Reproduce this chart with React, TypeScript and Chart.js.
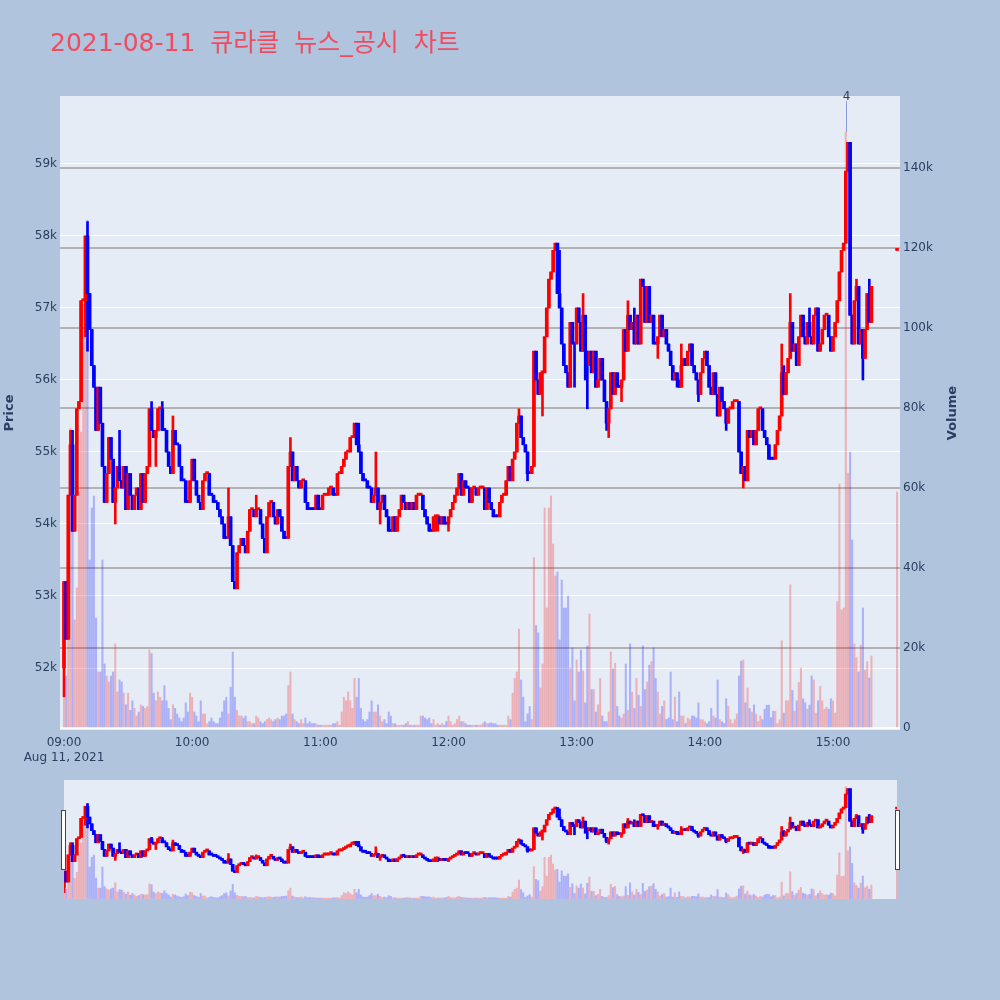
import React, { useEffect, useRef } from 'react';
import { Chart, registerables } from 'chart.js';

Chart.register(...registerables);

// ---------------- data ----------------
const TITLE = '2021-08-11 큐라클 뉴스_공시 차트';
const DATE_LABEL = 'Aug 11, 2021';
const tickMinutes = [0, 60, 120, 180, 240, 300, 360];
const tickLabels = ['09:00', '10:00', '11:00', '12:00', '13:00', '14:00', '15:00'];
const priceTicks = [52000, 53000, 54000, 55000, 56000, 57000, 58000, 59000];
const volumeTicks = [0, 20000, 40000, 60000, 80000, 100000, 120000, 140000];

const FIRST_OPEN = 52000;

// per-minute closing prices (minute 0 = 09:00)
const closesH09 = [
  53200, 52400, 54400, 55100, 53900, 54400, 55600, 55700, 57100, 57100,
  58000, 57200, 56700, 56200, 55900, 55300, 55900, 55400, 54800, 54300,
  54700, 55200, 54900, 54300, 54500, 54800, 54600, 54500, 54800, 54200,
  54700, 54400, 54200, 54400, 54500, 54200, 54700, 54300, 54700, 54800,
  55600, 55300, 55200, 55300, 55600, 55600, 55300, 55300, 55000, 54800,
  54700, 55300, 55100, 55100, 54800, 54600, 54600, 54300, 54300, 54600,
];
const closesH10 = [
  54900, 54600, 54400, 54300, 54200, 54600, 54700, 54700, 54400, 54400,
  54300, 54300, 54200, 54100, 54000, 53800, 53800, 54100, 53700, 53200,
  53100, 53600, 53700, 53800, 53700, 53600, 53900, 54200, 54200, 54100,
  54200, 54200, 54000, 53800, 53600, 54100, 54300, 54300, 54100, 54000,
  54200, 54100, 53900, 53800, 53800, 54800, 55000, 54600, 54800, 54600,
  54500, 54600, 54600, 54300, 54200, 54200, 54200, 54200, 54400, 54200,
];
const closesH11 = [
  54200, 54400, 54400, 54400, 54500, 54500, 54400, 54400, 54700, 54700,
  54800, 54900, 55000, 55000, 55200, 55200, 55400, 55100, 55000, 54700,
  54600, 54600, 54500, 54500, 54300, 54400, 54500, 54200, 54300, 54400,
  54200, 54100, 53900, 53900, 54100, 53900, 54100, 54200, 54400, 54300,
  54200, 54300, 54200, 54300, 54200, 54400, 54400, 54400, 54200, 54100,
  54000, 53900, 53900, 54100, 54100, 54100, 54000, 54100, 54000, 54000,
];
const closesH12 = [
  54100, 54200, 54300, 54400, 54500, 54700, 54400, 54600, 54500, 54500,
  54300, 54500, 54500, 54400, 54500, 54500, 54500, 54200, 54500, 54300,
  54200, 54100, 54100, 54100, 54300, 54400, 54400, 54600, 54800, 54600,
  54900, 55000, 55400, 55500, 55200, 55100, 55000, 54700, 54700, 54800,
  56400, 56000, 55800, 56100, 56100, 56600, 57000, 57400, 57500, 57800,
  57900, 57200, 57000, 56500, 56200, 56100, 55900, 56800, 56500, 56500,
];
const closesH13 = [
  57000, 56800, 56400, 56900, 56400, 56200, 56400, 56100, 56400, 55900,
  56000, 56300, 56000, 55700, 55400, 55600, 56100, 55800, 56100, 55900,
  55900, 56000, 56700, 56400, 56900, 56700, 56800, 56500, 56900, 56500,
  57400, 57300, 56800, 57300, 56800, 56900, 56500, 56500, 56600, 56900,
  56600, 56700, 56500, 56400, 56200, 56000, 56100, 56000, 55900, 56200,
  56300, 56200, 56400, 56500, 56200, 56100, 56000, 55800, 56100, 56300,
];
const closesH14 = [
  56400, 56200, 55900, 55800, 56100, 55800, 55500, 55900, 55700, 55600,
  55400, 55600, 55600, 55700, 55700, 55700, 55000, 54700, 54800, 54600,
  55300, 55200, 55300, 55100, 55300, 55600, 55600, 55300, 55200, 55100,
  54900, 54900, 54900, 55100, 55300, 55500, 56100, 55800, 56100, 56300,
  56800, 56400, 56500, 56200, 56600, 56900, 56600, 56500, 56800, 56600,
  56500, 56900, 57000, 56400, 56500, 56700, 56900, 56900, 56600, 56400,
];
const closesH15 = [
  56600, 56800, 57100, 57500, 57800, 57900, 58900, 59300, 56900, 56500,
  57100, 57300, 56500, 56700, 56300, 56700, 57200, 56800, 57300,
];

// wick extremes [minute, price]
const wickHighs: [number, number][] = [
  [3, 55300], [4, 55300], [11, 58200], [26, 55300], [41, 55700], [46, 55700], [51, 55500],
  [68, 54700], [77, 54500], [90, 54400], [106, 55200], [137, 55400], [138, 55400], [146, 55000],
  [185, 54700], [213, 55600], [230, 57900], [231, 57800], [232, 57800], [243, 57200], [264, 57100],
  [267, 57000], [289, 56500], [316, 55400], [336, 56500], [337, 56200], [340, 57200], [349, 57000],
  [371, 57400], [377, 57400],
];
const wickLows: [number, number][] = [
  [0, 51600], [10, 56600], [11, 56400], [24, 54000], [43, 54800], [80, 53100], [95, 53600],
  [148, 54000], [152, 53900], [174, 53900], [175, 53900], [180, 53900], [217, 54600], [224, 55500],
  [239, 55900], [244, 56000], [245, 55600], [254, 55300], [255, 55200], [261, 55700], [278, 56300],
  [287, 55900], [297, 55700], [310, 55300], [318, 54500], [374, 56000],
];

// per-minute volume, thousands of shares
const volH09 = [
  8, 13, 31, 75, 50, 27, 35, 59, 74, 106,
  106, 127, 42, 55, 58, 27.5, 14, 14, 42, 16,
  13, 11.5, 13, 14, 21, 9, 12, 11.5, 8.7, 5.8,
  8.7, 4.4, 6.8, 4.9, 3, 4, 5.8, 5.4, 4.9, 5.4,
  19.5, 18.6, 8.7, 6.8, 9, 7.7, 6.8, 10.6, 6.8, 4.9,
  2.1, 5.8, 4.9, 3.5, 2.5, 1.6, 2.5, 6.3, 4, 8.7,
];
const volH10 = [
  7.7, 4, 3, 1.6, 6.8, 3.5, 3.5, 1.1, 1.6, 2.5,
  1.6, 1.1, 1.1, 2.5, 4, 6.8, 7.7, 3.5, 10.2, 19,
  7.7, 4.4, 3, 3, 2.5, 3, 1.6, 1.6, 1.1, 1.1,
  3, 2.5, 1.6, 1.1, 1.6, 2.1, 2.5, 2.1, 1.6, 2.1,
  2.5, 2.1, 3, 3, 3.5, 10.6, 14, 3.5, 2.1, 1.6,
  1.1, 2.1, 1.1, 2.5, 1.1, 1.6, 1.1, 1.1, 1.1, 0.7,
];
const volH11 = [
  0.7, 0.7, 0.7, 0.7, 0.7, 0.7, 1.1, 1.1, 1.6, 0.7,
  4, 7.7, 6.8, 9, 6.8, 4.9, 12.4, 7.7, 12.4, 4.9,
  2.1, 1.6, 2.1, 4, 6.8, 4, 4, 5.8, 3, 1.6,
  2.1, 1.1, 4, 3, 1.1, 1.1, 0.7, 0.7, 0.7, 0.7,
  1.1, 1.6, 0.7, 0.7, 0.7, 0.7, 0.7, 3, 3, 2.5,
  2.1, 2.5, 1.1, 2.1, 0.7, 1.1, 0.7, 1.1, 0.7, 1.6,
];
const volH12 = [
  3, 1.6, 0.7, 1.1, 2.1, 3, 1.6, 1.6, 1.1, 0.7,
  0.7, 0.7, 0.7, 0.7, 0.7, 0.7, 1.1, 1.6, 1.1, 1.1,
  1.3, 1.1, 1.1, 0.7, 0.7, 0.7, 0.7, 0.7, 3, 2.1,
  8.7, 12.4, 14, 24.7, 12, 7.7, 1.6, 3.5, 5.4, 2.1,
  42.6, 25.6, 23.8, 10, 16, 55, 30, 55, 58, 46,
  38, 39, 22, 37, 30, 30, 33, 15, 20, 6.8,
];
const volH13 = [
  17, 14, 19.5, 14.3, 6.3, 20.5, 28.5, 9.6, 9.6, 4,
  5.8, 12.4, 3, 1.6, 1.6, 4, 19, 14.8, 16.2, 5.4,
  3, 2.5, 3.5, 16, 4.4, 21, 9, 4.9, 12.4, 8.2,
  5.4, 20.5, 9.6, 11.5, 15.7, 16.6, 20, 12.4, 9, 3.5,
  5.4, 6.8, 2.1, 2.5, 14, 2.1, 7.7, 1.6, 9, 3,
  3, 1.1, 2.5, 2.1, 3, 3, 2.5, 6.3, 2.1, 2.1,
];
const volH14 = [
  1.6, 1.1, 1.6, 4.9, 3, 2.5, 12, 2.1, 1.6, 1.1,
  7.3, 5.4, 2.1, 1.1, 2.1, 3.5, 13, 16.7, 17, 6.3,
  10, 4.9, 4, 5.8, 3.5, 1.6, 3, 2.1, 4.7, 5.7,
  5.7, 2.6, 4.2, 4.2, 1.1, 2.1, 21.8, 3.7, 6.8, 6.8,
  35.8, 9.4, 4.2, 6.8, 11.4, 15, 7.3, 6.3, 4.7, 5.7,
  13, 12, 3.7, 6.8, 10.4, 6.8, 4.7, 5.2, 4.7, 7.3,
];
const volH15 = [
  6.8, 3.7, 31.6, 61, 29.5, 30, 149, 63.7, 69, 47,
  21, 17.6, 14, 20.7, 30, 14.5, 16.6, 12.5, 18,
];

// closing auction (15:30)
const closingAuction = { minute: 390, price: 57800, volumeK: 59 };
// news annotation
const newsMark = { minute: 366, text: '4' };

// ---------------- styling ----------------
const PAGE_BG = '#b0c4de';
const PLOT_BG = '#e5ecf6';
const UP = '#ff0000';
const DOWN = '#0000ff';
const VOL_UP = 'rgba(255,0,0,0.25)';
const VOL_DOWN = 'rgba(0,0,255,0.25)';
const TEXT = '#2a3f5f';
const TITLE_COLOR = 'rgb(239,76,96)';
const FONT = '"DejaVu Sans", Verdana, sans-serif';

const PRICE_MIN = 51139;
const PRICE_MAX = 59944;
const VOL_MIN = -500;
const VOL_MAX = 158000;
const X_MIN = -1.873;
const X_MAX = 391.37;

type Candle = { m: number; o: number; h: number; l: number; c: number; v: number; up: boolean };

function buildCandles(): Candle[] {
  const closes = [...closesH09, ...closesH10, ...closesH11, ...closesH12, ...closesH13, ...closesH14, ...closesH15];
  const vols = [...volH09, ...volH10, ...volH11, ...volH12, ...volH13, ...volH14, ...volH15];
  const out: Candle[] = [];
  let prevUp = true;
  closes.forEach((c, i) => {
    const o = i === 0 ? FIRST_OPEN : closes[i - 1];
    const up = c > o ? true : c < o ? false : prevUp;
    prevUp = up;
    out.push({ m: i, o, h: Math.max(o, c), l: Math.min(o, c), c, v: (vols[i] ?? 0) * 1000, up });
  });
  wickHighs.forEach(([m, p]) => { if (out[m]) out[m].h = Math.max(out[m].h, p); });
  wickLows.forEach(([m, p]) => { if (out[m]) out[m].l = Math.min(out[m].l, p); });
  const last = closes[closes.length - 1];
  const p = closingAuction.price;
  out.push({ m: closingAuction.minute, o: p, h: p, l: p, c: p, v: closingAuction.volumeK * 1000, up: p >= last });
  return out;
}

function makeDatasets(candles: Candle[]): any[] {
  const colors = candles.map((k) => (k.up ? UP : DOWN));
  return [
    {
      type: 'bar',
      label: 'Volume',
      data: candles.map((k) => ({ x: k.m, y: k.v })),
      yAxisID: 'y1',
      backgroundColor: candles.map((k) => (k.up ? VOL_UP : VOL_DOWN)),
      barThickness: 1.4,
      grouped: false,
      order: 3,
    },
    {
      type: 'bar',
      label: 'Wick',
      data: candles.map((k) => ({ x: k.m, y: [k.l, k.h] })),
      yAxisID: 'y',
      backgroundColor: colors,
      barThickness: 2,
      grouped: false,
      order: 2,
    },
    {
      type: 'bar',
      label: 'Body',
      data: candles.map((k) => ({ x: k.m, y: [k.o, k.c] })),
      yAxisID: 'y',
      backgroundColor: colors,
      barThickness: 3,
      minBarLength: 2,
      grouped: false,
      order: 1,
    },
  ];
}

const plotBgPlugin = {
  id: 'plotBg',
  beforeDraw(chart: any) {
    const { ctx, chartArea: a } = chart;
    ctx.save();
    ctx.fillStyle = PLOT_BG;
    ctx.fillRect(a.left, a.top, a.right - a.left, a.bottom - a.top);
    ctx.restore();
  },
};

function makeOverlayPlugin(candles: Candle[]) {
  return {
    id: 'overlay',
    afterDraw(chart: any) {
      const { ctx, chartArea: a } = chart;
      ctx.save();
      // title
      ctx.font = `25px ${FONT}, "Noto Sans CJK KR", sans-serif`;
      ctx.fillStyle = TITLE_COLOR;
      ctx.textAlign = 'left';
      ctx.textBaseline = 'alphabetic';
      try { (ctx as any).wordSpacing = '7px'; } catch (e) { /* ignore */ }
      ctx.fillText(TITLE, 50, 51);
      try { (ctx as any).wordSpacing = '0px'; } catch (e) { /* ignore */ }

      // axis titles
      const cy = (a.top + a.bottom) / 2;
      ctx.font = `bold 13px ${FONT}`;
      ctx.fillStyle = TEXT;
      ctx.textAlign = 'center';
      ctx.textBaseline = 'middle';
      ctx.save();
      ctx.translate(10, cy);
      ctx.rotate(-Math.PI / 2);
      ctx.fillText('Price', 0, 0);
      ctx.restore();
      ctx.save();
      ctx.translate(953, cy);
      ctx.rotate(-Math.PI / 2);
      ctx.fillText('Volume', 0, 0);
      ctx.restore();

      // news annotation
      const k = candles.find((c) => c.m === newsMark.minute);
      const x = Math.round(chart.scales.x.getPixelForValue(newsMark.minute)) + 0.5;
      const yEnd = k ? chart.scales.y1.getPixelForValue(k.v) : a.top + 30;
      ctx.strokeStyle = 'rgba(110,130,210,0.75)';
      ctx.lineWidth = 1;
      ctx.beginPath();
      ctx.moveTo(x, a.top + 5);
      ctx.lineTo(x, yEnd);
      ctx.stroke();
      ctx.font = `12px ${FONT}`;
      ctx.fillStyle = TEXT;
      ctx.textAlign = 'center';
      ctx.textBaseline = 'middle';
      ctx.fillText(newsMark.text, x, a.top + 0.5);
      ctx.restore();
    },
  };
}

export default function App() {
  const mainRef = useRef<HTMLCanvasElement>(null);
  const sliderRef = useRef<HTMLCanvasElement>(null);

  useEffect(() => {
    const candles = buildCandles();
    const tickFont = { family: FONT, size: 12 };

    const main = new Chart(mainRef.current as HTMLCanvasElement, {
      type: 'bar',
      data: { datasets: makeDatasets(candles) },
      options: {
        animation: false,
        responsive: false,
        maintainAspectRatio: false,
        events: [],
        layout: { padding: { top: 96, left: 0, right: 35, bottom: 0 } },
        plugins: { legend: { display: false }, tooltip: { enabled: false }, title: { display: false } },
        scales: {
          x: {
            type: 'linear',
            min: X_MIN,
            max: X_MAX,
            offset: false,
            grid: { display: false, offset: false },
            border: { display: false },
            afterFit: (s: any) => { s.height = 270; },
            afterBuildTicks: (s: any) => { s.ticks = tickMinutes.map((v) => ({ value: v })); },
            ticks: {
              autoSkip: false,
              maxRotation: 0,
              padding: -2,
              color: TEXT,
              font: tickFont,
              callback: (v: any) => {
                const i = tickMinutes.indexOf(Number(v));
                if (i < 0) return '';
                return i === 0 ? [tickLabels[0], DATE_LABEL] : tickLabels[i];
              },
            },
          },
          y: {
            type: 'linear',
            position: 'left',
            min: PRICE_MIN,
            max: PRICE_MAX,
            grid: { color: '#ffffff', lineWidth: 1, drawTicks: false },
            border: { display: false },
            afterFit: (s: any) => { s.width = 60; },
            afterBuildTicks: (s: any) => { s.ticks = priceTicks.map((v) => ({ value: v })); },
            ticks: { padding: 3, color: TEXT, font: tickFont, callback: (v: any) => `${Number(v) / 1000}k` },
          },
          y1: {
            type: 'linear',
            position: 'right',
            min: VOL_MIN,
            max: VOL_MAX,
            grid: {
              color: (c: any) => (c.tick && c.tick.value === 0 ? '#ffffff' : '#b2b2b2'),
              lineWidth: 2,
              drawTicks: false,
            },
            border: { display: false },
            afterFit: (s: any) => { s.width = 65; },
            afterBuildTicks: (s: any) => { s.ticks = volumeTicks.map((v) => ({ value: v })); },
            ticks: {
              padding: 3,
              color: TEXT,
              font: tickFont,
              callback: (v: any) => (Number(v) === 0 ? '0' : `${Number(v) / 1000}k`),
            },
          },
        },
      } as any,
      plugins: [plotBgPlugin, makeOverlayPlugin(candles)],
    });

    const slider = new Chart(sliderRef.current as HTMLCanvasElement, {
      type: 'bar',
      data: { datasets: makeDatasets(candles) },
      options: {
        animation: false,
        responsive: false,
        maintainAspectRatio: false,
        events: [],
        layout: { padding: 0 },
        plugins: { legend: { display: false }, tooltip: { enabled: false } },
        scales: {
          x: { type: 'linear', display: false, min: 0, max: 390, offset: false, grid: { offset: false } },
          y: { type: 'linear', display: false, min: PRICE_MIN, max: PRICE_MAX },
          y1: { type: 'linear', display: false, position: 'right', min: VOL_MIN, max: VOL_MAX },
        },
      } as any,
      plugins: [plotBgPlugin],
    });

    return () => {
      main.destroy();
      slider.destroy();
    };
  }, []);

  const handle: React.CSSProperties = {
    position: 'absolute',
    top: 810,
    width: 3,
    height: 58,
    background: '#ffffff',
    border: '1px solid #444444',
  };

  return (
    <div style={{ position: 'fixed', left: 0, top: 0, width: 1000, height: 1000, background: PAGE_BG, overflow: 'hidden' }}>
      <canvas ref={mainRef} width={1000} height={1000} style={{ position: 'absolute', left: 0, top: 0, width: 1000, height: 1000 }} />
      <canvas ref={sliderRef} width={833} height={119} style={{ position: 'absolute', left: 64, top: 780, width: 833, height: 119 }} />
      <div style={{ ...handle, left: 61 }} />
      <div style={{ ...handle, left: 895 }} />
    </div>
  );
}
